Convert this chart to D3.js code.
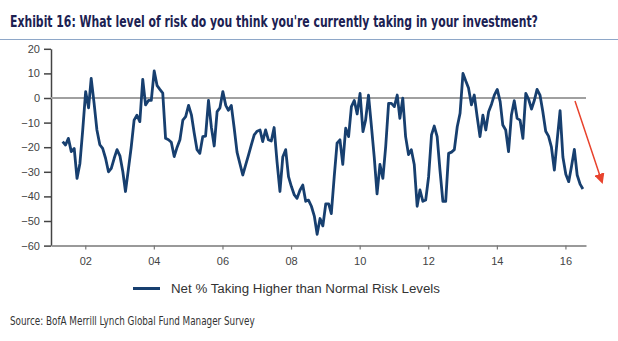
<!DOCTYPE html>
<html>
<head>
<meta charset="utf-8">
<script src="https://cdn.jsdelivr.net/npm/d3@7"></script>
<style>
  html, body { margin: 0; padding: 0; background: #fff; }
  svg { display: block; }
</style>
</head>
<body>
<svg id="chart"></svg>
<script>
// Monthly survey readings, first reading May 2001
const firstMonth = [2001, 4];
const riskValues = [
  // 2001 (May-Dec)
  -17.7, -19.1, -16.4, -21.8, -20.5, -32.7, -26.6, -13,
  // 2002
  2.6, -4, 8, -2.2, -13, -19, -20.5, -24.5, -30, -28.6, -24.5, -21,
  // 2003
  -23.5, -30, -38, -29, -20, -9, -7, -9.6, 7.6, -2.8, -1, -1,
  // 2004
  11, 5, 3.5, 2, -16.4, -17, -18, -23.8, -20, -17, -9, -7.6,
  // 2005
  -3, -7, -14, -21, -22.5, -15.7, -15.5, -1, -12, -19.5, -5.5, -4,
  // 2006
  2.6, -3, -5, -3, -12, -22, -26.6, -31.3, -27.2, -23.2, -19, -15,
  // 2007
  -13.5, -13, -17.7, -13, -17, -17.5, -12, -26, -38, -24, -21, -32,
  // 2008
  -36, -39.4, -40.8, -37.5, -35.4, -42, -41.5, -44, -48, -55.4, -49, -52,
  // 2009
  -43, -43, -47, -32, -18.4, -17, -27, -12.3, -15.7, -3.5, -1, -6.5,
  // 2010
  1.9, -13.7, -9, 1.2, -11, -24, -39, -27, -32.7, -19.8, -2.2, -2.2,
  // 2011
  -3.5, 1.2, -8.3, -0.1, -15.7, -23, -21, -27, -44, -37.4, -42, -41.5,
  // 2012
  -32, -15, -11.4, -15.7, -29.3, -42, -42, -22.5, -22, -21, -11.7, -6.2,
  // 2013
  10, 6.8, 4.1, -2.8, 1.2, -7.6, -15.7, -7, -13, -5.6, -2.5, 1.2,
  // 2014
  3.5, -1.5, -11, -13, -21.8, -6.9, -1.1, -8.3, -9, -16.4, 1.9, -0.5,
  // 2015
  -4.5, -0.8, 3.5, 1.2, -5.5, -13.5, -15.5, -20, -29.3, -17.1, -5.1, -24,
  // 2016 (Jan-Jul)
  -31, -34, -27.9, -20.9, -31.3, -35, -37
];
const yTickValues = [-60, -50, -40, -30, -20, -10, 0, 10, 20];
const xTickYears = [2002, 2004, 2006, 2008, 2010, 2012, 2014, 2016];

const titleText = "Exhibit 16: What level of risk do you think you're currently taking in your investment?";
const legendText = "Net % Taking Higher than Normal Risk Levels";
const sourceText = "Source: BofA Merrill Lynch Global Fund Manager Survey";

const width = 618, height = 341;
const plot = { left: 51, right: 586, top: 48.8, bottom: 245.6 };
const navy = "#173f6f";

const svg = d3.select("#chart")
  .attr("width", width)
  .attr("height", height);

const data = riskValues.map((v, i) => ({
  date: new Date(firstMonth[0], firstMonth[1] + i, 5),
  value: v
}));

const x = d3.scaleTime()
  .domain([new Date(2001, 0, 1), new Date(2016, 7, 7)])
  .range([plot.left, plot.right]);

const y = d3.scaleLinear()
  .domain([-60, 20])
  .range([plot.bottom, plot.top]);

// Squeeze a text horizontally so it spans the given width
function fitWidth(sel, target) {
  const natural = sel.node().getComputedTextLength();
  const sx = Math.min(1, target / natural);
  const tx = +sel.attr("x"), ty = +sel.attr("y");
  sel.attr("x", 0).attr("y", 0)
    .attr("transform", `translate(${tx},${ty}) scale(${sx},1)`);
}

// Title and rule beneath it
const title = svg.append("text")
  .attr("x", 10)
  .attr("y", 27)
  .style("font-family", "'Liberation Sans Narrow', 'DejaVu Sans Condensed', sans-serif")
  .style("font-weight", "bold")
  .style("font-size", "15px")
  .style("fill", "#1c2152")
  .text(titleText);
fitWidth(title, 528);

svg.append("line")
  .attr("x1", 0).attr("x2", width)
  .attr("y1", 39.5).attr("y2", 39.5)
  .attr("stroke", "#8ea7c8")
  .attr("stroke-width", 1);

// Y axis
const yAxis = svg.append("g")
  .attr("transform", `translate(${plot.left},0)`)
  .call(d3.axisLeft(y)
    .tickValues(yTickValues)
    .tickSize(7)
    .tickSizeOuter(0)
    .tickPadding(4));

yAxis.select(".domain").attr("stroke", "#444").attr("stroke-width", 1.5);
yAxis.selectAll(".tick line").attr("stroke", "#444").attr("stroke-width", 1.5);
yAxis.selectAll(".tick text")
  .style("font-family", "'Liberation Sans', Arial, sans-serif")
  .style("font-size", "11px")
  .style("fill", "#444");

// X axis
const xAxis = svg.append("g")
  .attr("transform", `translate(0,${plot.bottom})`)
  .call(d3.axisBottom(x)
    .tickValues(xTickYears.map(yr => new Date(yr, 0, 1)))
    .tickFormat(d3.timeFormat("%y"))
    .tickSize(4)
    .tickSizeOuter(0)
    .tickPadding(8));

xAxis.select(".domain").attr("stroke", "#999").attr("stroke-width", 2);
xAxis.selectAll(".tick line").attr("stroke", "#777").attr("stroke-width", 1.2);
xAxis.selectAll(".tick text")
  .style("font-family", "'Liberation Sans', Arial, sans-serif")
  .style("font-size", "11px")
  .style("fill", "#444");

// Zero reference line
svg.append("line")
  .attr("x1", plot.left).attr("x2", plot.right)
  .attr("y1", y(0)).attr("y2", y(0))
  .attr("stroke", "#a0a0a0")
  .attr("stroke-width", 2);

// Series line
const line = d3.line()
  .x(d => x(d.date))
  .y(d => y(d.value));

svg.append("path")
  .datum(data)
  .attr("d", line)
  .attr("fill", "none")
  .attr("stroke", navy)
  .attr("stroke-width", 2.8)
  .attr("stroke-linejoin", "round");

// Red trend arrow
svg.append("defs").append("marker")
  .attr("id", "arrow-head")
  .attr("viewBox", "0 0 10 10")
  .attr("refX", 2).attr("refY", 5)
  .attr("markerWidth", 7).attr("markerHeight", 7)
  .attr("markerUnits", "strokeWidth")
  .attr("orient", "auto")
  .append("path")
  .attr("d", "M0,0 L10,5 L0,10 Z")
  .attr("fill", "#e8432d");

svg.append("line")
  .attr("x1", 575).attr("y1", 101)
  .attr("x2", 600).attr("y2", 176)
  .attr("stroke", "#e8432d")
  .attr("stroke-width", 1.5)
  .attr("marker-end", "url(#arrow-head)");

// Legend
svg.append("line")
  .attr("x1", 133).attr("x2", 160)
  .attr("y1", 288.5).attr("y2", 288.5)
  .attr("stroke", navy)
  .attr("stroke-width", 3);

svg.append("text")
  .attr("x", 171)
  .attr("y", 292.5)
  .attr("textLength", 269)
  .attr("lengthAdjust", "spacingAndGlyphs")
  .style("font-family", "'Liberation Sans', Arial, sans-serif")
  .style("font-size", "12px")
  .style("fill", "#333")
  .text(legendText);

// Source note
const source = svg.append("text")
  .attr("x", 10)
  .attr("y", 325)
  .style("font-family", "'Liberation Sans Narrow', 'DejaVu Sans Condensed', sans-serif")
  .style("font-size", "11.5px")
  .style("fill", "#333")
  .text(sourceText);
fitWidth(source, 245);
</script>
</body>
</html>
